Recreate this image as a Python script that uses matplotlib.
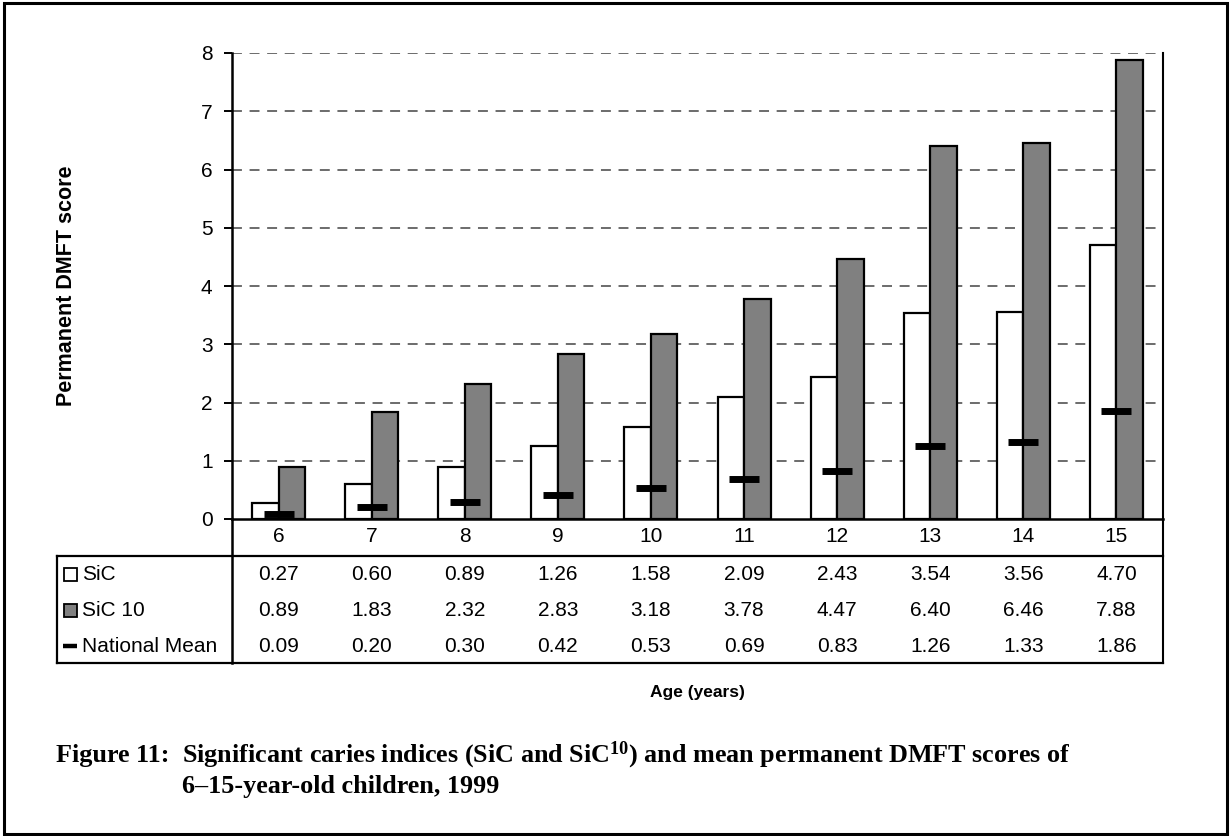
import matplotlib
matplotlib.use("Agg")
import matplotlib.pyplot as plt
from matplotlib.patches import Rectangle
from matplotlib.lines import Line2D
from matplotlib.transforms import blended_transform_factory

plt.rcParams['font.family'] = ['Liberation Sans', 'DejaVu Sans']
plt.rcParams['mathtext.default'] = 'regular'

# Data: significant caries indices and national mean DMFT by age
ages = ['6', '7', '8', '9', '10', '11', '12', '13', '14', '15']
sic = [0.27, 0.60, 0.89, 1.26, 1.58, 2.09, 2.43, 3.54, 3.56, 4.70]
sic10 = [0.89, 1.83, 2.32, 2.83, 3.18, 3.78, 4.47, 6.40, 6.46, 7.88]
national_mean = [0.09, 0.20, 0.30, 0.42, 0.53, 0.69, 0.83, 1.26, 1.33, 1.86]
series_names = ['SiC', 'SiC 10', 'National Mean']
y_ticks = [0, 1, 2, 3, 4, 5, 6, 7, 8]

W, H = 1230, 836
fig = plt.figure(figsize=(W / 100, H / 100), dpi=100)

# pixel-coordinate overlay for frame, table rules and caption
frame = fig.add_axes([0, 0, 1, 1])
frame.set_xlim(0, W)
frame.set_ylim(H, 0)
frame.axis('off')
frame.set_zorder(0)

L, R, T, B = 232, 1163, 53, 519
ax = fig.add_axes([L / W, 1 - B / H, (R - L) / W, (B - T) / H])
ax.set_zorder(1)
ax.patch.set_alpha(0)

FS = 15

x = list(range(len(ages)))
bw = 0.285
ax.bar([i - bw / 2 for i in x], sic, width=bw, color='white',
       edgecolor='black', linewidth=1.6, zorder=3)
ax.bar([i + bw / 2 for i in x], sic10, width=bw, color='#808080',
       edgecolor='black', linewidth=1.6, zorder=3)
ax.plot(x, national_mean, ls='none', marker='_', ms=22, mew=5,
        color='black', zorder=4)

ax.set_xlim(-0.5, len(ages) - 0.5)
ax.set_ylim(0, 8)
ax.set_yticks(y_ticks)
ax.set_yticklabels([str(v) for v in y_ticks], fontsize=FS)
ax.tick_params(axis='y', length=6, width=1.4, pad=8, direction='out')
ax.set_xticks([])
for yv in y_ticks[1:]:
    ax.axhline(yv, color='#444444', lw=1.1, ls=(0, (6.5, 5)), zorder=1)

ax.spines['top'].set_visible(False)
ax.spines['left'].set_linewidth(1.8)
ax.spines['bottom'].set_linewidth(1.8)
ax.spines['right'].set_linewidth(1.5)

fig.text(67 / W, 1 - 286 / H, 'Permanent DMFT score', rotation=90,
         ha='center', va='center', fontsize=15.5, fontweight='bold')

# data table below the axis
tab_left, row_sep, tab_bottom = 57, 556, 663
lw_tab = 1.6
frame.add_line(Line2D([L, L], [B, tab_bottom], color='black', lw=1.8))
frame.add_line(Line2D([R, R], [B, tab_bottom], color='black', lw=1.5))
frame.add_line(Line2D([tab_left, R], [row_sep, row_sep], color='black', lw=lw_tab))
frame.add_line(Line2D([tab_left, R], [tab_bottom, tab_bottom], color='black', lw=lw_tab))
frame.add_line(Line2D([tab_left, tab_left], [row_sep, tab_bottom], color='black', lw=lw_tab))

tr = blended_transform_factory(ax.transData, frame.transData)
for i, a in enumerate(ages):
    frame.text(i, 537, a, transform=tr, ha='center', va='center', fontsize=FS)

row_y = [574, 610, 646]
for vals, yy in zip([sic, sic10, national_mean], row_y):
    for i, v in enumerate(vals):
        frame.text(i, yy, f'{v:.2f}', transform=tr, ha='center', va='center',
                   fontsize=FS)

# legend keys in the table's first column
frame.add_patch(Rectangle((63.5, row_y[0] - 6.5), 13, 13, facecolor='white',
                          edgecolor='black', lw=1.3))
frame.add_patch(Rectangle((63.5, row_y[1] - 6.5), 13, 13, facecolor='#808080',
                          edgecolor='black', lw=1.3))
frame.add_line(Line2D([63, 77], [row_y[2], row_y[2]], color='black', lw=3.2,
                      solid_capstyle='butt'))
for name, yy in zip(series_names, row_y):
    frame.text(82, yy, name, ha='left', va='center', fontsize=FS)

frame.text(697, 693, 'Age (years)', ha='center', va='center', fontsize=12.5,
           fontweight='bold')

# caption
cap_font = dict(family=['Liberation Serif', 'DejaVu Serif'], fontweight='bold',
                fontsize=18.8, va='baseline')
frame.text(169, 762, 'Figure 11:', ha='right', **cap_font)
frame.text(182, 762, 'Significant caries indices (SiC and SiC$^{10}$) and mean '
           'permanent DMFT scores of', ha='left', **cap_font)
frame.text(182, 793, '6\u201315-year-old children, 1999', ha='left', **cap_font)

# outer frame
frame.add_patch(Rectangle((4, 3), 1223, 831, facecolor='none',
                          edgecolor='black', lw=2.2))

fig.savefig('out.png', dpi=100)
